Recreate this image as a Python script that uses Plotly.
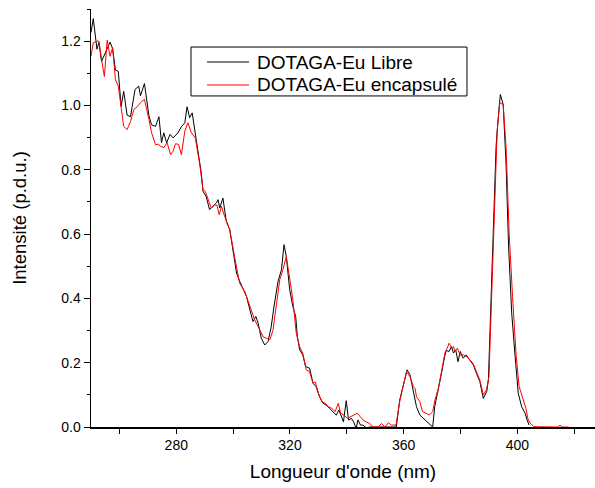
import plotly.graph_objects as go

# DOTAGA-Eu Libre (black)
x_libre = [250.0, 250.8, 252.1, 252.8, 253.7, 255.5, 256.7, 257.6, 258.6, 259.6,
           260.6, 261.5, 262.7, 263.9, 265.5, 266.8, 267.4, 268.8, 270.4, 271.3,
           272.7, 273.9, 274.8, 275.6, 276.6, 277.8, 278.9, 280.6, 281.8, 283.0,
           283.8, 284.7, 285.6, 287.0, 288.8, 289.4, 290.5, 291.7, 292.9, 294.1,
           294.7, 295.3, 296.4, 297.6, 298.8, 300.0, 301.2, 302.3, 303.5, 304.7,
           305.9, 307.0, 308.0, 308.8, 309.9, 311.1, 312.3, 313.4, 314.3, 315.2,
           315.8, 317.0, 317.9, 318.7, 319.9, 321.0, 322.0, 322.6, 323.4, 324.5,
           325.5, 326.9, 328.1, 329.2, 330.4, 331.6, 332.8, 333.9, 335.1, 336.3,
           337.2, 338.1, 338.8, 339.8, 340.6, 341.6, 342.4, 343.3, 343.9, 344.8,
           345.7, 346.9, 348.0, 351.0, 354.0, 357.4, 358.6, 359.8, 361.2, 362.2,
           363.4, 364.5, 365.7, 366.9, 368.0, 369.2, 370.2, 370.9, 372.1, 373.3,
           374.4, 375.0, 376.0, 376.8, 377.5, 378.3, 379.1, 379.9, 380.9, 382.0,
           383.2, 384.5, 385.6, 386.8, 388.0, 389.2, 389.8, 390.6, 391.6, 392.5,
           393.4, 394.0, 395.0, 396.0, 396.9, 398.0, 399.2, 400.3, 401.5, 402.7,
           403.4, 404.1]
y_libre = [1.227, 1.27, 1.175, 1.196, 1.137, 1.17, 1.197, 1.177, 1.11, 1.106,
           0.997, 1.044, 0.97, 0.965, 1.05, 1.06, 1.03, 1.068, 0.967, 0.94,
           0.935, 0.965, 0.884, 0.915, 0.884, 0.91, 0.899, 0.915, 0.934, 0.946,
           0.996, 0.962, 0.977, 0.894, 0.79, 0.733, 0.717, 0.676, 0.686, 0.697,
           0.707, 0.681, 0.712, 0.64, 0.614, 0.551, 0.479, 0.453, 0.432, 0.406,
           0.364, 0.328, 0.344, 0.323, 0.276, 0.255, 0.266, 0.312, 0.37, 0.427,
           0.453, 0.489, 0.567, 0.53, 0.427, 0.375, 0.344, 0.281, 0.24, 0.224,
           0.188, 0.183, 0.136, 0.125, 0.094, 0.074, 0.068, 0.058, 0.048, 0.037,
           0.053, 0.032, 0.016, 0.082, 0.022, 0.027, 0.016, -0.005, 0.022, 0.006,
           0.006, -0.003, 0.0, 0.0, 0.0, 0.0, 0.084, 0.131, 0.178, 0.163,
           0.115, 0.063, 0.037, 0.027, 0.016, 0.006, 0.0, 0.063, 0.11, 0.167,
           0.219, 0.238, 0.235, 0.25, 0.23, 0.24, 0.203, 0.235, 0.214, 0.224,
           0.209, 0.193, 0.167, 0.141, 0.089, 0.11, 0.146, 0.354, 0.666, 0.873,
           0.977, 1.034, 1.003, 0.821, 0.562, 0.354, 0.219, 0.105, 0.063, 0.043,
           0.022, 0.006]

# DOTAGA-Eu encapsulé (red)
x_encap = [250.0, 250.8, 252.2, 252.8, 253.7, 254.7, 255.7, 256.7, 257.6, 258.6,
           259.6, 260.6, 261.5, 262.7, 263.9, 265.1, 266.4, 267.4, 268.8, 270.4,
           271.3, 272.7, 273.7, 274.4, 275.6, 276.8, 278.0, 278.9, 279.7, 280.8,
           281.8, 283.0, 284.1, 285.3, 286.7, 288.2, 289.4, 290.2, 291.1, 292.3,
           293.5, 294.3, 295.1, 295.9, 297.0, 298.8, 300.5, 302.3, 304.1, 305.9,
           307.6, 309.4, 310.5, 311.7, 312.9, 314.0, 315.2, 316.4, 317.5, 318.7,
           319.6, 321.0, 322.2, 323.4, 324.5, 325.7, 326.9, 328.1, 328.9, 330.0,
           331.2, 332.4, 333.5, 334.7, 335.9, 337.0, 337.8, 339.0, 340.2, 341.4,
           342.6, 343.7, 344.7, 345.7, 346.8, 348.0, 349.3, 351.0, 352.2, 353.4,
           354.6, 355.7, 357.3, 358.7, 359.8, 361.0, 362.2, 363.4, 364.0, 364.5,
           365.7, 366.6, 367.8, 369.0, 370.2, 371.0, 372.2, 373.3, 374.5, 375.3,
           376.0, 376.9, 377.5, 378.0, 378.9, 379.8, 381.0, 382.1, 383.3, 384.4,
           385.6, 386.8, 388.0, 389.1, 390.0, 390.9, 391.8, 392.9, 393.8, 395.0,
           396.0, 397.1, 398.3, 399.5, 400.6, 401.8, 403.0, 403.8, 404.6, 405.8,
           410.0, 414.2, 415.0, 415.8, 418.0]
y_encap = [1.153, 1.195, 1.2, 1.2, 1.143, 1.09, 1.203, 1.153, 1.18, 1.08,
           1.06, 0.988, 0.935, 0.925, 0.95, 0.988, 0.997, 1.009, 1.019, 0.956,
           0.915, 0.878, 0.88, 0.873, 0.869, 0.884, 0.847, 0.858, 0.881, 0.879,
           0.847, 0.92, 0.946, 0.915, 0.899, 0.82, 0.738, 0.733, 0.712, 0.681,
           0.69, 0.69, 0.66, 0.686, 0.655, 0.614, 0.53, 0.447, 0.421, 0.375,
           0.333, 0.302, 0.281, 0.276, 0.271, 0.30, 0.38, 0.458, 0.489, 0.53,
           0.479, 0.396, 0.292, 0.25, 0.23, 0.178, 0.172, 0.136, 0.14, 0.105,
           0.079, 0.074, 0.063, 0.058, 0.048, 0.074, 0.043, 0.037, 0.027, 0.032,
           0.037, 0.043, 0.032, 0.022, 0.016, 0.011, 0.0, 0.0, 0.011, 0.0,
           0.013, 0.006, 0.006, 0.084, 0.126, 0.172, 0.157, 0.126, 0.12, 0.094,
           0.079, 0.048, 0.043, 0.037, 0.048, 0.084, 0.12, 0.178, 0.23, 0.245,
           0.261, 0.245, 0.25, 0.235, 0.245, 0.224, 0.224, 0.219, 0.209, 0.198,
           0.172, 0.146, 0.1, 0.115, 0.157, 0.406, 0.686, 0.925, 1.008, 1.003,
           0.873, 0.603, 0.406, 0.23, 0.126, 0.094, 0.058, 0.022, 0.011, 0.001,
           0.0, 0.0, 0.006, 0.0, 0.0]

series_names = ["DOTAGA-Eu Libre", "DOTAGA-Eu encapsulé"]
series_colors = ["#000000", "#ff0000"]

x_range = [250, 427.3]
y_range = [0, 1.3]
x_tickvals = [280, 320, 360, 400]
y_tickvals = [0.0, 0.2, 0.4, 0.6, 0.8, 1.0, 1.2]

FONT = "Liberation Sans, Arial, sans-serif"

fig = go.Figure()
fig.add_trace(go.Scatter(x=x_libre, y=y_libre, mode="lines", name=series_names[0],
                         line=dict(color=series_colors[0], width=1), cliponaxis=True))
fig.add_trace(go.Scatter(x=x_encap, y=y_encap, mode="lines", name=series_names[1],
                         line=dict(color=series_colors[1], width=1), cliponaxis=True))

# Legend drawn in paper coordinates (box, line samples, labels)
legend_box = dict(x0=0.1984, x1=0.746, y0=0.792, y1=0.909)
legend_line_x = (0.2302, 0.3135)
legend_rows_y = [0.8732, 0.8182]
legend_text_x = 0.3254

shapes = [dict(type="rect", xref="paper", yref="paper", **legend_box,
               line=dict(color="black", width=1), fillcolor="white", layer="above")]
annotations = []
for name, color, ry in zip(series_names, series_colors, legend_rows_y):
    shapes.append(dict(type="line", xref="paper", yref="paper",
                       x0=legend_line_x[0], x1=legend_line_x[1], y0=ry, y1=ry,
                       line=dict(color=color, width=1), layer="above"))
    annotations.append(dict(text=name, xref="paper", yref="paper", x=legend_text_x, y=ry,
                            xanchor="left", yanchor="middle", showarrow=False,
                            font=dict(family=FONT, size=19, color="black")))

fig.update_layout(
    width=595, height=488,
    margin=dict(l=91, r=0, t=9, b=61, autoexpand=False),
    paper_bgcolor="white", plot_bgcolor="white",
    font=dict(family=FONT, color="black", size=14),
    showlegend=False,
    shapes=shapes,
    annotations=annotations,
    xaxis=dict(range=x_range, tickvals=x_tickvals, ticktext=[str(v) for v in x_tickvals],
               automargin=False,
               showgrid=False, zeroline=False, showline=True, linecolor="black", linewidth=1.5,
               ticks="outside", ticklen=5, tickwidth=1, tickcolor="black",
               minor=dict(dtick=20, tick0=260, ticks="outside", ticklen=5, tickwidth=1, tickcolor="black", showgrid=False),
               tickfont=dict(size=14),
               title=dict(text="Longueur d'onde (nm)", font=dict(size=19), standoff=12)),
    yaxis=dict(range=y_range, tickvals=y_tickvals, ticktext=[f"{v:.1f}" for v in y_tickvals],
               automargin=False,
               showgrid=False, zeroline=False, showline=True, linecolor="black", linewidth=1.5,
               ticks="outside", ticklen=6, tickwidth=1, tickcolor="black",
               minor=dict(dtick=0.1, tick0=0, ticks="outside", ticklen=3, tickwidth=1, tickcolor="black", showgrid=False),
               tickfont=dict(size=14),
               title=dict(text="Intensité (p.d.u.)", font=dict(size=18.5), standoff=30)),
)

fig.write_html("out.html",
               config={"displayModeBar": False, "staticPlot": True},
               post_script="document.body.style.margin='0';document.body.style.overflow='hidden';")
